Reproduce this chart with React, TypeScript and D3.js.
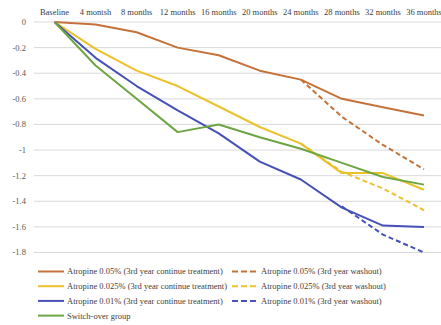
import React from "react";
import * as d3 from "d3";

const categories = ["Baseline", "4 montsh", "8 months", "12 months", "16 months", "20 months", "24 months", "28 months", "32 months", "36 months"];
const yTicks = [0, -0.2, -0.4, -0.6, -0.8, -1, -1.2, -1.4, -1.6, -1.8];

const orangeCont = [0, -0.02, -0.08, -0.2, -0.26, -0.38, -0.45, -0.6, -0.665, -0.73];
const orangeWash = [null, null, null, null, null, null, -0.45, -0.74, -0.96, -1.15];
const yellowCont = [0, -0.21, -0.38, -0.5, -0.66, -0.82, -0.95, -1.18, -1.18, -1.31];
const yellowWash = [null, null, null, null, null, null, -0.95, -1.17, -1.3, -1.47];
const blueCont = [0, -0.28, -0.5, -0.69, -0.87, -1.09, -1.23, -1.45, -1.59, -1.6];
const blueWash = [null, null, null, null, null, null, null, -1.44, -1.66, -1.8];
const greenSwitch = [0, -0.34, -0.6, -0.86, -0.8, -0.9, -0.99, -1.1, -1.21, -1.27];

const seriesNames = [
  "Atropine 0.05% (3rd year continue treatment)",
  "Atropine 0.05% (3rd year washout)",
  "Atropine 0.025% (3rd year continue treatment)",
  "Atropine 0.025% (3rd year washout)",
  "Atropine 0.01% (3rd year continue treatment)",
  "Atropine 0.01% (3rd year washout)",
  "Switch-over group",
];

const ORANGE = "#C5723A";
const YELLOW = "#EDC12A";
const BLUE = "#4650B6";
const GREEN = "#6EA542";

const series = [
  { name: seriesNames[0], values: orangeCont, color: ORANGE, dashed: false },
  { name: seriesNames[1], values: orangeWash, color: ORANGE, dashed: true },
  { name: seriesNames[2], values: yellowCont, color: YELLOW, dashed: false },
  { name: seriesNames[3], values: yellowWash, color: YELLOW, dashed: true },
  { name: seriesNames[4], values: blueCont, color: BLUE, dashed: false },
  { name: seriesNames[5], values: blueWash, color: BLUE, dashed: true },
  { name: seriesNames[6], values: greenSwitch, color: GREEN, dashed: false },
];

export default function App() {
  const W = 441, H = 325;
  const x = d3.scaleBand<string>().domain(categories).range([34, 34 + 41.05 * 10]);
  const cx = (c: string) => (x(c) as number) + x.bandwidth() / 2;
  const y = d3.scaleLinear().domain([0, -1.8]).range([22, 252.5]);
  const font = "'Liberation Serif', 'Times New Roman', serif";

  const line = d3
    .line<{ c: string; v: number | null }>()
    .defined((d) => d.v !== null)
    .x((d) => cx(d.c))
    .y((d) => y(d.v as number));

  const legendRows = [
    [series[0], series[1]],
    [series[2], series[3]],
    [series[4], series[5]],
    [series[6]],
  ];

  return (
    <svg width={W} height={H} style={{ position: "absolute", left: 0, top: 0, background: "#fff" }}>
      <rect x={0} y={0} width={W} height={H} fill="#fff" />
      {yTicks.map((t) => (
        <g key={t}>
          <line x1={34} x2={441} y1={y(t)} y2={y(t)} stroke="#d9d9d9" strokeWidth={1} />
          <text x={26} y={y(t)} dy="0.35em" textAnchor="end" fontFamily={font} fontSize={8.5} fill="#595959">
            {t === 0 ? "0" : String(t)}
          </text>
        </g>
      ))}
      {categories.map((c) => (
        <text key={c} x={cx(c)} y={12} dy="0.35em" textAnchor="middle" fontFamily={font} fontSize={8.5} fill="#404040">
          {c}
        </text>
      ))}
      {series.map((s) => (
        <path
          key={s.name}
          d={line(categories.map((c, i) => ({ c, v: s.values[i] }))) || ""}
          fill="none"
          stroke={s.color}
          strokeWidth={2}
          strokeDasharray={s.dashed ? "5,3" : undefined}
          strokeLinejoin="round"
        />
      ))}
      {legendRows.map((row, r) => {
        const ly = 271.5 + 14.7 * r;
        return (
          <g key={r}>
            {row.map((s, k) => {
              const x0 = k === 0 ? 38 : 232;
              return (
                <g key={s.name}>
                  <line x1={x0} x2={x0 + 26} y1={ly} y2={ly} stroke={s.color} strokeWidth={2} strokeDasharray={s.dashed ? "6,3" : undefined} />
                  <text x={x0 + 29} y={ly} dy="0.35em" fontFamily={font} fontSize={8.5} fill="#404040">
                    {s.name}
                  </text>
                </g>
              );
            })}
          </g>
        );
      })}
    </svg>
  );
}
